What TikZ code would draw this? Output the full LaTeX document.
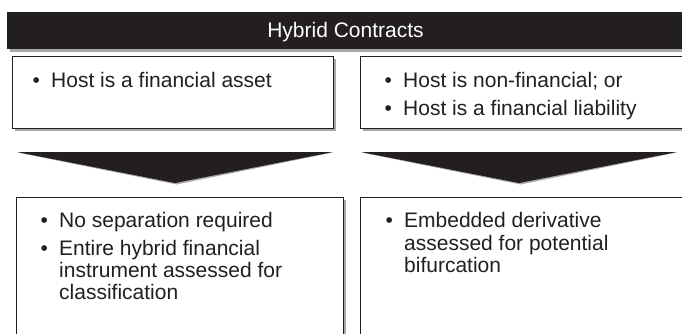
\documentclass[tikz,border=0pt]{standalone}
\usepackage{fontspec}
\setmainfont{Liberation Sans}
\usetikzlibrary{shadows}
\definecolor{barblack}{HTML}{231F20}
\definecolor{shgray}{HTML}{A8A8A8}
\newcommand\bul{\makebox[18.7pt][l]{\textbullet}}
\begin{document}
\begin{tikzpicture}[x=1pt,y=-1pt,
  boxst/.style={draw=barblack, line width=1.1pt, fill=white, rectangle, anchor=north west,
    drop shadow={shadow xshift=2.2pt, shadow yshift=-2.2pt, fill=shgray, opacity=1}},
  txt/.style={anchor=base west, inner sep=0pt, font=\fontsize{21}{23}\selectfont, text=barblack},
  chev/.style={fill=barblack}]
\useasboundingbox (0,0) rectangle (682,334);
\begin{scope}
\clip (0,0) rectangle (682,334);
% title bar
\node[fill=barblack, anchor=north west, minimum width=690pt, minimum height=37pt, inner sep=0pt,
  drop shadow={shadow xshift=3pt, shadow yshift=-3pt, fill=shgray, opacity=1}] (title) at (7,12) {};
\node[anchor=base, inner sep=0pt, font=\fontsize{21}{23}\selectfont, text=white] (ttext) at (345.5,38) {Hybrid Contracts};
% top boxes
\node[boxst, minimum width=321pt, minimum height=72pt] (tl) at (12,56) {};
\node[boxst, minimum width=340pt, minimum height=72pt] (tr) at (360,56) {};
% chevrons
\fill[shgray] (17,152.5) -- (333,152.5) -- (176.5,184.5) -- cycle;
\fill[chev] (17,152) -- (333,152) -- (175,183) -- cycle;
\fill[shgray] (361,152.5) -- (677,152.5) -- (520.5,184.5) -- cycle;
\fill[chev] (361,152) -- (677,152) -- (519,183) -- cycle;
% bottom boxes
\node[boxst, minimum width=327pt, minimum height=150pt] (bl) at (16,197) {};
\node[boxst, minimum width=340pt, minimum height=150pt] (br) at (360,197) {};
\end{scope}
% texts
\node[txt] (a1) at (32.3,88) {\bul Host is a financial asset};
\node[txt] (b1) at (384.3,88) {\bul Host is non-financial; or};
\node[txt] (b2) at (384.3,116) {\bul Host is a financial liability};
\node[txt] (c1) at (40.3,227) {\bul No separation required};
\node[txt] (c2) at (40.3,255) {\bul Entire hybrid financial};
\node[txt] (c3) at (59,277) {instrument assessed for};
\node[txt] (c4) at (59,299) {classification};
\node[txt] (d1) at (385.3,227) {\bul Embedded derivative};
\node[txt] (d2) at (404,250) {assessed for potential};
\node[txt] (d3) at (404,272) {bifurcation};
\end{tikzpicture}
\end{document}
